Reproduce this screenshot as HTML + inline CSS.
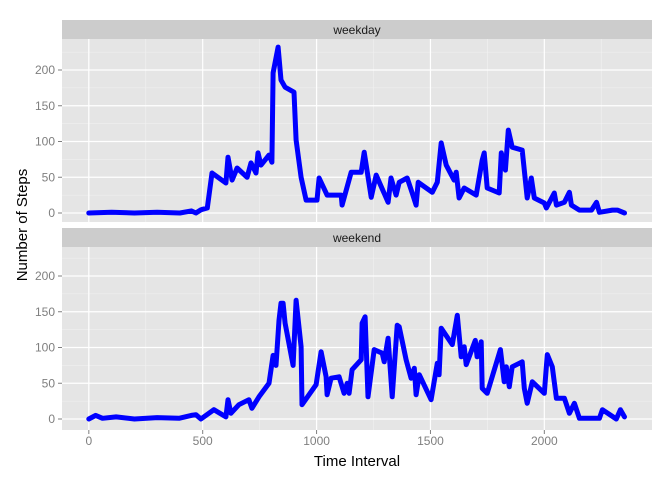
<!DOCTYPE html>
<html><head><meta charset="utf-8"><style>
body{margin:0;background:#fff}
svg{display:block;font-family:"Liberation Sans",sans-serif}
</style></head><body>
<svg id="c" width="672" height="480"></svg>
<script>
const xTicks=[0,500,1000,1500,2000];
const yTicks=[0,50,100,150,200];
const panelNames=["weekday","weekend"];
const weekdayIntervals=[0,100,200,300,400,450,470,490,497,520,541,602,611,629,651,695,712,734,743,756,791,804,809,831,844,862,901,910,932,954,1002,1011,1046,1108,1112,1152,1196,1209,1240,1262,1314,1327,1349,1363,1398,1420,1437,1446,1508,1530,1547,1569,1604,1613,1626,1648,1701,1727,1736,1749,1802,1811,1829,1842,1859,1903,1925,1943,1956,2000,2009,2044,2053,2088,2110,2119,2154,2207,2229,2242,2299,2321,2352];
const weekdaySteps=[0,1,0,1,0,3,0,4,5,7,56,42,78,46,63,50,70,56,84,67,81,71,196,232,186,176,169,102,50,18,18,49,25,25,11,57,57,85,22,53,15,49,25,43,49,28,11,43,29,43,98,67,46,57,21,35,25,74,84,35,28,84,60,116,92,88,21,49,21,14,7,28,11,15,29,11,4,4,15,1,4,4,0];
const weekendIntervals=[0,30,60,120,200,300,396,450,470,492,549,602,611,624,659,703,716,747,791,809,822,835,844,853,862,897,910,932,936,998,1020,1042,1046,1064,1099,1121,1134,1143,1156,1196,1200,1213,1226,1253,1288,1297,1314,1332,1354,1363,1393,1415,1429,1437,1451,1503,1530,1538,1547,1596,1618,1635,1648,1657,1697,1705,1723,1727,1749,1807,1824,1833,1846,1859,1903,1912,1925,1947,2000,2013,2035,2053,2088,2110,2132,2154,2242,2255,2316,2334,2352];
const weekendSteps=[0,5,1,3,0,2,1,5,6,0,13,3,27,8,20,27,15,31,50,89,75,138,162,162,134,75,166,101,20,48,94,59,34,57,59,36,50,36,69,83,134,143,31,97,92,80,113,31,131,129,83,57,71,34,62,27,78,62,127,104,145,87,101,76,110,87,108,43,36,97,52,73,45,73,80,43,22,52,36,90,73,29,29,8,22,1,1,13,0,13,3];

const NS="http://www.w3.org/2000/svg",svg=document.getElementById("c");
function mk(t,a,p){const e=document.createElementNS(NS,t);for(const k in a)e.setAttribute(k,a[k]);(p||svg).appendChild(e);return e;}
const X0=62,X1=652,xmin=-117.75,xmax=2472.75;
const sx=v=>X0+(v-xmin)/(xmax-xmin)*(X1-X0);
const panels=[{top:20,pt:39,pb:222,y0:213},{top:228,pt:247,pb:430,y0:419}];
const yScale=0.715;
const series=[[weekdayIntervals,weekdaySteps],[weekendIntervals,weekendSteps]];
panels.forEach((p,i)=>{
  const sy=v=>p.y0-v*yScale;
  const st=mk("rect",{x:X0,y:p.top,width:X1-X0,height:p.pt-p.top,fill:"#cccccc"});
  
  
  const stt=mk("text",{x:(X0+X1)/2,y:p.top+14,"text-anchor":"middle","font-size":"12",fill:"#1a1a1a"});stt.textContent=panelNames[i];
  
  
  const bg=mk("rect",{x:X0,y:p.pt,width:X1-X0,height:p.pb-p.pt,fill:"#e5e5e5"});
  
  
  for(let k=0;k<yTicks.length;k++){const v=yTicks[k]+25;if(sy(v)>p.pt)mk("line",{x1:X0,x2:X1,y1:sy(v),y2:sy(v),stroke:"#f2f2f2","stroke-width":0.6});}
  for(let k=0;k<xTicks.length;k++){const v=xTicks[k]+250;if(sx(v)<X1)mk("line",{x1:sx(v),x2:sx(v),y1:p.pt,y2:p.pb,stroke:"#f2f2f2","stroke-width":0.6});}
  yTicks.forEach(v=>{
    mk("line",{x1:X0,x2:X1,y1:sy(v),y2:sy(v),stroke:"#fff","stroke-width":1.2});
    mk("line",{x1:X0-4,x2:X0,y1:sy(v),y2:sy(v),stroke:"#7f7f7f"});
    const t=mk("text",{x:X0-7,y:sy(v)+4,"text-anchor":"end","font-size":"12",fill:"#7f7f7f"});t.textContent=v;
    
    
  });
  xTicks.forEach(v=>mk("line",{x1:sx(v),x2:sx(v),y1:p.pt,y2:p.pb,stroke:"#fff","stroke-width":1.2}));
  const [xs,ys]=series[i];
  const d=xs.map((v,j)=>(j?"L":"M")+sx(v).toFixed(1)+","+sy(ys[j]).toFixed(1)).join("");
  const ln=mk("path",{d:d,fill:"none",stroke:"#0000ff","stroke-width":5,"stroke-linejoin":"round","stroke-linecap":"round"});
  
  
});
xTicks.forEach(v=>{
  mk("line",{x1:sx(v),x2:sx(v),y1:430,y2:434,stroke:"#7f7f7f"});
  const t=mk("text",{x:sx(v),y:445,"text-anchor":"middle","font-size":"12",fill:"#7f7f7f"});t.textContent=v;
  
  
});
const xt=mk("text",{x:357,y:466,"text-anchor":"middle","font-size":"15",fill:"#000"});xt.textContent="Time Interval";


const yt=mk("text",{x:0,y:0,"text-anchor":"middle","font-size":"15",fill:"#000",transform:"translate(27,225) rotate(-90)"});yt.textContent="Number of Steps";


</script>
</body></html>
